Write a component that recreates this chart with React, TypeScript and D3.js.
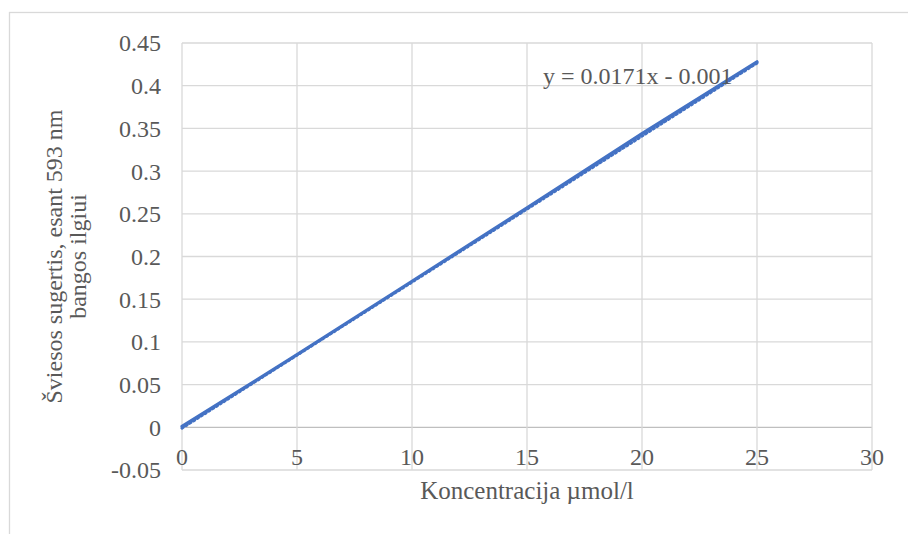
import React from "react";
import * as d3 from "d3";

const concentrations = [0, 5, 10, 15, 20, 25];
const absorbance = [0.001, 0.085, 0.171, 0.257, 0.344, 0.428];
const trendSlope = 0.0171;
const trendIntercept = -0.001;
const xTicks = [0, 5, 10, 15, 20, 25, 30];
const yTicks = [-0.05, 0, 0.05, 0.1, 0.15, 0.2, 0.25, 0.3, 0.35, 0.4, 0.45];
const xTitle = "Koncentracija µmol/l";
const yTitleLines = ["Šviesos sugertis, esant 593 nm", "bangos ilgiui"];
const equationText = "y = 0.0171x - 0.001";

const W = 908;
const H = 534;
const left = 182;
const right = 872;
const top = 43;
const bottom = 470;
const FONT = "'Liberation Serif', 'Times New Roman', serif";
const TEXT = "#595959";
const GRID = "#d9d9d9";
const BLUE = "#4472c4";

export default function App() {
  const x = d3.scaleLinear().domain([0, 30]).range([left, right]);
  const y = d3.scaleLinear().domain([-0.05, 0.45]).range([bottom, top]);
  const pts = concentrations.map((c, i) => [c, absorbance[i]] as [number, number]);
  const line = d3
    .line<[number, number]>()
    .x((d) => x(d[0]))
    .y((d) => y(d[1]));
  const xMax = d3.max(concentrations) as number;
  const trend: [number, number][] = [
    [0, trendIntercept],
    [xMax, trendSlope * xMax + trendIntercept],
  ];
  const fmt = (v: number) => {
    if (Math.abs(v) < 1e-9) return "0";
    let s = v.toFixed(2);
    s = s.replace(/0+$/, "").replace(/\.$/, "");
    return s;
  };
  const cy = (top + bottom) / 2;
  return (
    <svg
      width={W}
      height={H}
      style={{ position: "absolute", left: 0, top: 0, background: "#fff" }}
      fontFamily={FONT}
    >
      <rect x={0} y={0} width={W} height={H} fill="#fff" />
      <rect x={9.5} y={12.5} width={W + 20} height={H + 20} fill="none" stroke={GRID} strokeWidth={1.3} />
      {yTicks.map((t) => (
        <line
          key={"gy" + t}
          x1={left}
          x2={right}
          y1={y(t)}
          y2={y(t)}
          stroke={Math.abs(t) < 1e-9 ? "#bfbfbf" : GRID}
          strokeWidth={1.3}
        />
      ))}
      {xTicks.map((t) => (
        <line key={"gx" + t} x1={x(t)} x2={x(t)} y1={top} y2={bottom} stroke={GRID} strokeWidth={1.3} />
      ))}
      {yTicks.map((t) => (
        <text
          key={"ty" + t}
          x={161}
          y={y(t)}
          dy="0.35em"
          textAnchor="end"
          fontSize={24}
          fill={TEXT}
        >
          {fmt(t)}
        </text>
      ))}
      {xTicks.map((t) => (
        <text key={"tx" + t} x={x(t)} y={y(0) + 38} textAnchor="middle" fontSize={24} fill={TEXT}>
          {t}
        </text>
      ))}
      <text x={(left + right) / 2} y={499} textAnchor="middle" fontSize={25} fill={TEXT}>
        {xTitle}
      </text>
      {yTitleLines.map((s, i) => (
        <text
          key={s}
          transform={`translate(${62 + i * 24},${cy}) rotate(-90)`}
          textAnchor="middle"
          fontSize={24}
          fill={TEXT}
        >
          {s}
        </text>
      ))}
      <path
        d={line(trend) || ""}
        fill="none"
        stroke={BLUE}
        strokeWidth={3}
        strokeDasharray="1.5 3"
        strokeLinecap="round"
      />
      <path d={line(pts) || ""} fill="none" stroke={BLUE} strokeWidth={3.2} strokeLinejoin="round" strokeLinecap="round" />
      <text x={543} y={84} fontSize={24} fill={TEXT}>
        {equationText}
      </text>
    </svg>
  );
}
